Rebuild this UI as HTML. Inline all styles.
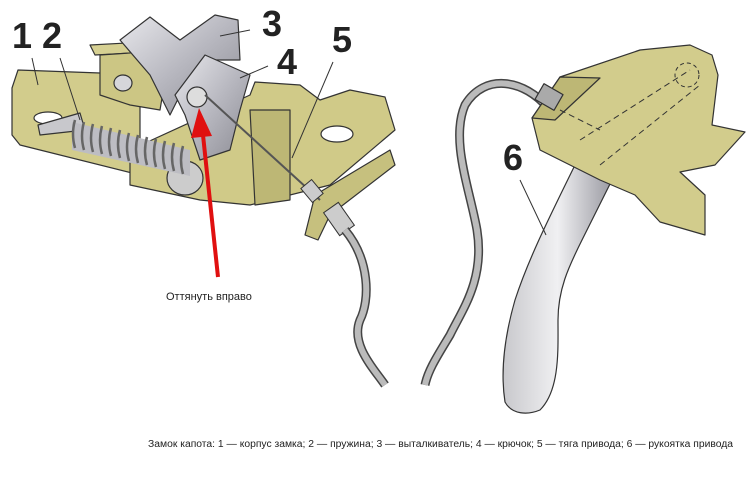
<!DOCTYPE html>
<html><head><meta charset="utf-8"><style>
html,body{margin:0;padding:0;background:#fff;width:750px;height:480px;overflow:hidden}
svg{display:block}
text{font-family:"Liberation Sans",sans-serif}
</style></head><body>
<svg width="750" height="480" viewBox="0 0 750 480" xmlns="http://www.w3.org/2000/svg">
<defs>
<linearGradient id="g" x1="0" y1="0" x2="1" y2="1"><stop offset="0" stop-color="#e8e8ec"/><stop offset="0.5" stop-color="#b8b8c0"/><stop offset="1" stop-color="#8a8a92"/></linearGradient>
<linearGradient id="h" x1="0" y1="0" x2="1" y2="0"><stop offset="0" stop-color="#c8c8cc"/><stop offset="0.5" stop-color="#f0f0f2"/><stop offset="1" stop-color="#9a9aa2"/></linearGradient>
</defs>
<g stroke="#333" stroke-width="1.2" stroke-linejoin="round">
<polygon points="12,88 18,70 100,73 110,95 140,100 140,175 20,145 12,135" fill="#d2cc8c"/>
<polygon points="130,185 130,150 250,95 255,82 300,85 320,100 350,90 385,97 395,130 330,185 250,205 200,200" fill="#d0ca88"/>
<polygon points="250,110 255,205 290,200 290,110" fill="#bdb775"/>
<polygon points="90,45 145,42 150,52 95,55" fill="#d6d092"/>
<polygon points="100,55 145,52 165,80 160,110 130,105 100,95" fill="#ccc684"/>
<polygon points="120,40 150,17 180,40 215,15 238,20 240,60 215,60 185,85 170,115 150,75" fill="url(#g)"/>
<polygon points="175,95 205,55 250,75 240,110 230,150 200,160 185,115" fill="url(#g)"/>
<ellipse cx="123" cy="83" rx="9" ry="8" fill="#d6d6da"/>
<ellipse cx="197" cy="97" rx="10" ry="10" fill="#ddd"/>
<ellipse cx="48" cy="118" rx="14" ry="6" fill="#fff"/>
<ellipse cx="337" cy="134" rx="16" ry="8" fill="#fff"/>
<polygon points="305,235 315,195 390,150 395,165 330,215 318,240" fill="#c6c07e"/>
<polygon points="38,125 80,113 85,130 40,135" fill="#c8c8cc"/>
<ellipse cx="185" cy="178" rx="18" ry="17" fill="#ccc"/>
</g>
<g>
<path d="M72,122 L190,150 L190,176 L72,150 Z" fill="#bdbdc3"/>
<g fill="none" stroke="#666" stroke-width="2.5">
<path d="M75,120 q-4,14 0,28"/><path d="M84,122 q-4,14 0,28"/><path d="M93,124 q-4,14 0,28"/><path d="M102,126 q-4,14 0,28"/><path d="M111,128 q-4,14 0,28"/><path d="M120,130 q-4,14 0,28"/><path d="M129,133 q-4,14 0,28"/><path d="M138,135 q-4,14 0,28"/><path d="M147,137 q-4,14 0,28"/><path d="M156,139 q-4,14 0,28"/><path d="M165,141 q-4,14 0,28"/><path d="M174,143 q-4,14 0,28"/><path d="M183,146 q-4,14 0,28"/>
</g>
</g>
<line x1="205" y1="95" x2="320" y2="200" stroke="#555" stroke-width="2"/>
<rect x="305" y="182" width="14" height="18" fill="#ccc" stroke="#333" transform="rotate(-40 312 191)"/>
<rect x="330" y="205" width="18" height="28" fill="#ccc" stroke="#333" transform="rotate(-35 339 219)"/>
<path d="M345,230 C370,260 370,300 360,320 C350,345 375,370 385,385" fill="none" stroke="#444" stroke-width="9"/>
<path d="M345,230 C370,260 370,300 360,320 C350,345 375,370 385,385" fill="none" stroke="#bbb" stroke-width="6"/>
<path d="M548,108 C525,80 485,72 465,105 C450,140 470,190 477,230 C485,280 462,310 450,335 C438,355 428,370 425,385" fill="none" stroke="#444" stroke-width="9"/>
<path d="M548,108 C525,80 485,72 465,105 C450,140 470,190 477,230 C485,280 462,310 450,335 C438,355 428,370 425,385" fill="none" stroke="#bbb" stroke-width="6"/>
<g stroke="#333" stroke-width="1.2" stroke-linejoin="round">
<path d="M575,165 L612,180 L582,240 C568,268 558,290 558,320 C558,350 560,390 540,410 C528,415 512,415 505,402 C500,370 505,335 515,300 C528,260 548,220 575,165 Z" fill="url(#h)"/>
<polygon points="532,118 560,77 640,50 690,45 712,55 718,75 712,125 745,132 715,165 680,172 705,195 705,235 660,222 635,195 600,180 560,160 540,150" fill="#d2cc8c"/>
<polygon points="532,118 560,77 600,78 555,120" fill="#bdb775"/>
<rect x="538" y="88" width="22" height="18" fill="#aaa" transform="rotate(30 549 97)"/>
</g>
<circle cx="687" cy="75" r="12" fill="none" stroke="#333" stroke-dasharray="4,3"/>
<path d="M560,110 L600,130 M580,140 L690,70 M600,165 L700,85" stroke="#333" stroke-dasharray="6,4" fill="none"/>
<line x1="218" y1="277" x2="203" y2="135" stroke="#e01010" stroke-width="4"/>
<polygon points="199,108 191,138 212,136" fill="#e01010"/>
<g stroke="#333" stroke-width="1" fill="none">
<line x1="32" y1="58" x2="38" y2="85"/><line x1="60" y1="58" x2="80" y2="120"/>
<line x1="250" y1="30" x2="220" y2="36"/><line x1="268" y1="66" x2="240" y2="78"/>
<line x1="333" y1="62" x2="292" y2="158"/><line x1="520" y1="180" x2="546" y2="235"/>
</g>
<g font-weight="bold" font-size="36" fill="#222">
<text x="12" y="48">1</text><text x="42" y="48">2</text><text x="262" y="36">3</text>
<text x="277" y="74">4</text><text x="332" y="52">5</text><text x="503" y="170">6</text>
</g>
<text x="166" y="300" font-size="11" fill="#222">Оттянуть вправо</text>
<text x="148" y="447" font-size="10" fill="#222" textLength="585" lengthAdjust="spacingAndGlyphs">Замок капота: 1 — корпус замка; 2 — пружина; 3 — выталкиватель; 4 — крючок; 5 — тяга привода; 6 — рукоятка привода</text>
</svg>
</body></html>
